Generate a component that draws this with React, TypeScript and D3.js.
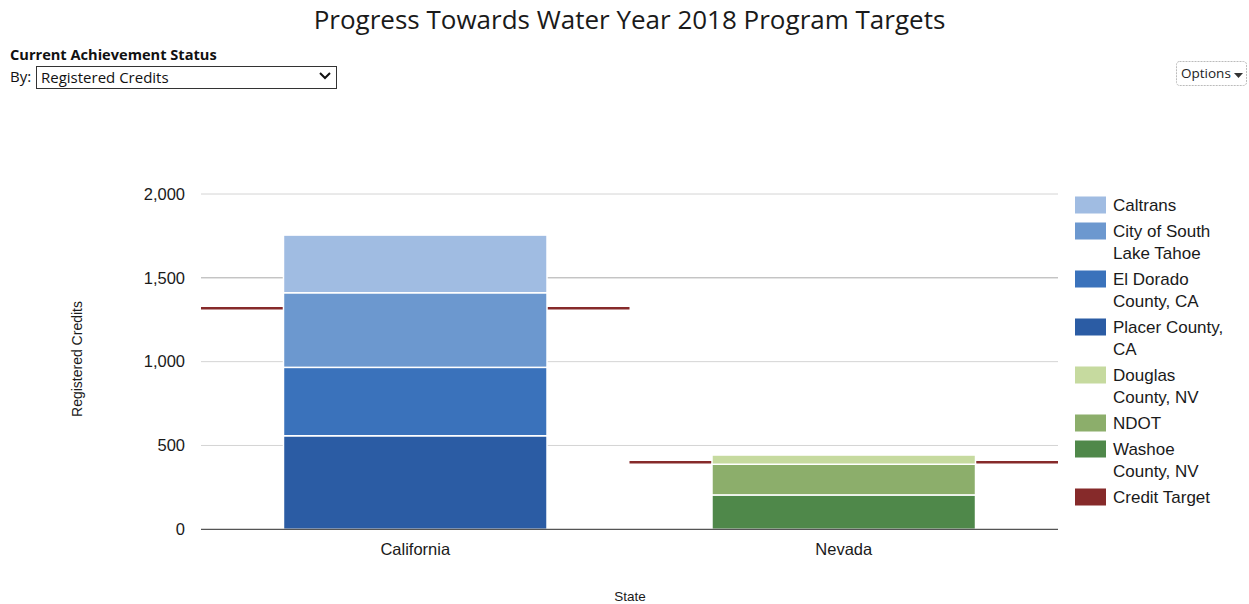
import * as d3 from 'd3'
import { useEffect, useRef } from 'react'

const STATES = ['California', 'Nevada']
const SERIES = [
  'Caltrans',
  'City of South Lake Tahoe',
  'El Dorado County, CA',
  'Placer County, CA',
  'Douglas County, NV',
  'NDOT',
  'Washoe County, NV',
]
const LEGEND_LINES = [
  ['Caltrans'],
  ['City of South', 'Lake Tahoe'],
  ['El Dorado', 'County, CA'],
  ['Placer County,', 'CA'],
  ['Douglas', 'County, NV'],
  ['NDOT'],
  ['Washoe', 'County, NV'],
  ['Credit Target'],
]
// values per series, [California, Nevada]
const CALTRANS = [344, 0]
const CITY_SLT = [445, 0]
const EL_DORADO = [408, 0]
const PLACER = [558, 0]
const DOUGLAS = [0, 55]
const NDOT = [0, 183]
const WASHOE = [0, 205]
const TARGETS = [1319, 400]
const Y_TICKS = [0, 500, 1000, 1500, 2000]

const COLORS = ['#a0bce2', '#6c98cf', '#3a72bb', '#2b5ca4', '#c6da9f', '#8cae6b', '#4f884a']
const TARGET_COLOR = '#862a2a'

export default function App() {
  const ref = useRef<HTMLDivElement>(null)

  useEffect(() => {
    const width = 1249
    const height = 604
    const left = 201
    const right = 1058
    const top = 194
    const bottom = 529.3
    const chartFont = '"Liberation Sans", Arial, sans-serif'
    const headFont = '"Open Sans", sans-serif'

    const valuesBySeries = [CALTRANS, CITY_SLT, EL_DORADO, PLACER, DOUGLAS, NDOT, WASHOE]
    const table = STATES.map((s, i) => {
      const row: Record<string, any> = { state: s }
      SERIES.forEach((k, j) => (row[k] = valuesBySeries[j][i]))
      return row
    })

    const x = d3.scaleBand().domain(STATES).range([left, right]).paddingInner(0.385).paddingOuter(0.1925)
    const xFull = d3.scaleBand().domain(STATES).range([left, right])
    const y = d3.scaleLinear().domain([0, 2000]).range([bottom, top])

    const stack = d3.stack<any>().keys([...SERIES].reverse())(table)

    const svg = d3
      .create('svg')
      .attr('width', width)
      .attr('height', height)
      .attr('style', 'position:absolute; left:0; top:0; background:#fff')

    // header
    svg
      .append('text')
      .attr('x', 629.5)
      .attr('y', 29)
      .attr('text-anchor', 'middle')
      .attr('font-family', headFont)
      .attr('font-size', 26)
      .attr('fill', '#1a1a1a')
      .text('Progress Towards Water Year 2018 Program Targets')
    svg
      .append('text')
      .attr('x', 10)
      .attr('y', 60)
      .attr('font-family', headFont)
      .attr('font-size', 14.6)
      .attr('font-weight', 'bold')
      .attr('fill', '#111')
      .text('Current Achievement Status')
    svg
      .append('text')
      .attr('x', 10)
      .attr('y', 82)
      .attr('font-family', headFont)
      .attr('font-size', 15)
      .attr('fill', '#111')
      .text('By:')
    svg
      .append('rect')
      .attr('x', 36.5)
      .attr('y', 66.5)
      .attr('width', 300)
      .attr('height', 22)
      .attr('fill', '#fff')
      .attr('stroke', '#333')
    svg
      .append('text')
      .attr('x', 41)
      .attr('y', 82.5)
      .attr('font-family', headFont)
      .attr('font-size', 15)
      .attr('fill', '#111')
      .text('Registered Credits')
    svg
      .append('path')
      .attr('d', 'M320,73 L325,78 L330,73')
      .attr('fill', 'none')
      .attr('stroke', '#111')
      .attr('stroke-width', 2)

    // options button
    svg
      .append('rect')
      .attr('x', 1176.5)
      .attr('y', 61.5)
      .attr('width', 70)
      .attr('height', 24)
      .attr('rx', 3)
      .attr('fill', '#fff')
      .attr('stroke', '#bbb')
      .attr('stroke-dasharray', '2,1')
    svg
      .append('text')
      .attr('x', 1181)
      .attr('y', 78)
      .attr('font-family', headFont)
      .attr('font-size', 13.5)
      .attr('fill', '#222')
      .text('Options')
    svg.append('path').attr('d', 'M1234,73 L1243,73 L1238.5,78 Z').attr('fill', '#333')

    // gridlines
    svg
      .append('g')
      .selectAll('line')
      .data(Y_TICKS.filter((t) => t > 0))
      .join('line')
      .attr('x1', left)
      .attr('x2', right)
      .attr('y1', (d) => y(d))
      .attr('y2', (d) => y(d))
      .attr('stroke', (d) => (d === 1500 ? '#aaa' : '#d4d4d4'))
      .attr('stroke-width', 1)

    // target lines (behind bars)
    svg
      .append('g')
      .selectAll('line')
      .data(STATES)
      .join('line')
      .attr('x1', (d) => xFull(d) as number)
      .attr('x2', (d) => (xFull(d) as number) + xFull.bandwidth())
      .attr('y1', (_, i) => y(TARGETS[i]))
      .attr('y2', (_, i) => y(TARGETS[i]))
      .attr('stroke', TARGET_COLOR)
      .attr('stroke-width', 2.5)

    // stacked bars
    svg
      .append('g')
      .selectAll('g')
      .data(stack)
      .join('g')
      .attr('fill', (d) => COLORS[SERIES.indexOf(d.key)])
      .selectAll('rect')
      .data((d) => d.filter((p) => p[1] - p[0] > 0))
      .join('rect')
      .attr('x', (d) => x(d.data.state) as number)
      .attr('width', x.bandwidth())
      .attr('y', (d) => y(d[1]))
      .attr('height', (d) => y(d[0]) - y(d[1]))
      .attr('stroke', '#fff')
      .attr('stroke-width', 1.5)

    // baseline
    svg
      .append('line')
      .attr('x1', left)
      .attr('x2', right)
      .attr('y1', bottom)
      .attr('y2', bottom)
      .attr('stroke', '#555')
      .attr('stroke-width', 1.2)

    // y tick labels
    svg
      .append('g')
      .attr('font-family', chartFont)
      .attr('font-size', 16.5)
      .attr('fill', '#1a1a1a')
      .attr('text-anchor', 'end')
      .selectAll('text')
      .data(Y_TICKS)
      .join('text')
      .attr('x', 185)
      .attr('y', (d) => y(d))
      .attr('dy', '0.35em')
      .text((d) => d3.format(',')(d))

    // x labels
    svg
      .append('g')
      .attr('font-family', chartFont)
      .attr('font-size', 16.5)
      .attr('fill', '#1a1a1a')
      .attr('text-anchor', 'middle')
      .selectAll('text')
      .data(STATES)
      .join('text')
      .attr('x', (d) => (x(d) as number) + x.bandwidth() / 2)
      .attr('y', 555)
      .text((d) => d)

    // axis titles
    svg
      .append('text')
      .attr('x', 630)
      .attr('y', 601)
      .attr('text-anchor', 'middle')
      .attr('font-family', chartFont)
      .attr('font-size', 13.5)
      .attr('fill', '#1a1a1a')
      .text('State')
    svg
      .append('text')
      .attr('transform', `translate(82, 359) rotate(-90)`)
      .attr('text-anchor', 'middle')
      .attr('font-family', chartFont)
      .attr('font-size', 14)
      .attr('fill', '#1a1a1a')
      .text('Registered Credits')

    // legend
    const legend = svg
      .append('g')
      .attr('font-family', chartFont)
      .attr('font-size', 17)
      .attr('fill', '#1a1a1a')
    let ly = 205
    LEGEND_LINES.forEach((lines, i) => {
      const color = i < COLORS.length ? COLORS[i] : TARGET_COLOR
      legend
        .append('rect')
        .attr('x', 1075)
        .attr('y', ly - 8.5)
        .attr('width', 31)
        .attr('height', 17)
        .attr('fill', color)
      lines.forEach((t, j) => {
        legend
          .append('text')
          .attr('x', 1113)
          .attr('y', ly + j * 22)
          .attr('dy', '0.35em')
          .text(t)
      })
      ly += (lines.length - 1) * 22 + 26
    })

    const node = svg.node()
    if (ref.current && node) {
      ref.current.innerHTML = ''
      ref.current.appendChild(node)
    }
  }, [])

  return <div ref={ref} />
}
